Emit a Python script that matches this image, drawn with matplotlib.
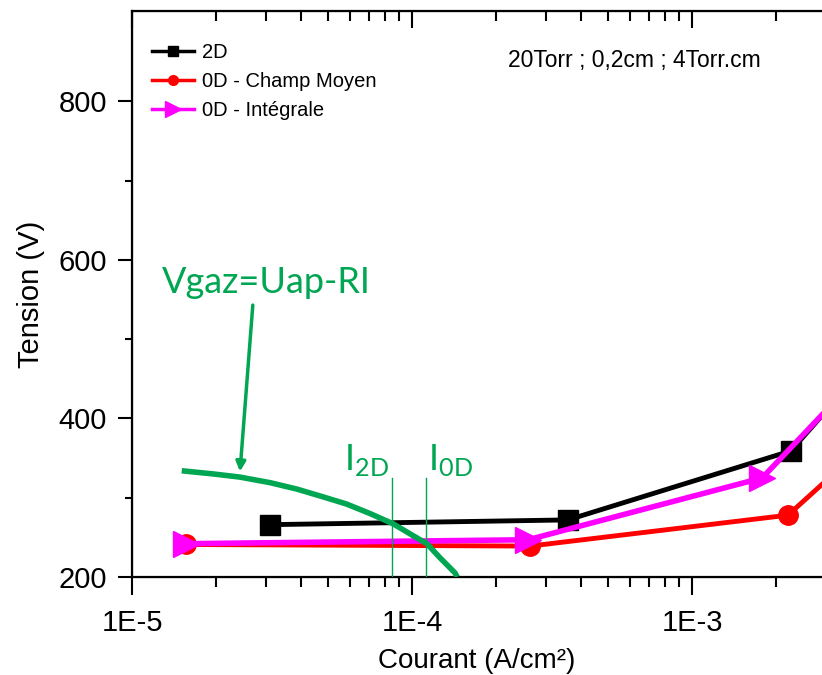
import numpy as np
import matplotlib
matplotlib.use("Agg")
import matplotlib.pyplot as plt
from matplotlib.lines import Line2D
from matplotlib.ticker import FixedLocator, NullFormatter, LogLocator

# data
i_2d = [3.1e-5, 3.6e-4, 2.25e-3, 3.2e-3]
v_2d = [266, 272, 359, 420]

i_cm = [1.56e-5, 2.64e-4, 2.2e-3, 4.0e-3]
v_cm = [241, 239, 278, 361]

i_int = [1.56e-5, 2.6e-4, 1.78e-3, 4.0e-3]
v_int = [242, 247, 325, 456]

# droite de charge Vgaz = Uap - RI
i_gaz = [1.505e-5, 1.95e-5, 2.43e-5, 3.11e-5, 3.87e-5, 4.82e-5, 5.84e-5,
         7.08e-5, 8.57e-5, 1.01e-4, 1.13e-4, 1.26e-4, 1.425e-4, 1.45e-4]
v_gaz = [334, 330, 326, 319, 311, 301, 292,
         280, 267, 252, 242, 224, 205, 200]

i_2d_cross = 8.5e-5
i_0d_cross = 1.12e-4
v_cross_top = 325

green = "#00a651"
plt.rcParams['font.family'] = ['Liberation Sans', 'DejaVu Sans']

fig = plt.figure(figsize=(8.22, 6.75), dpi=100)
ax = fig.add_axes([0.1606, 0.1452, 0.8394, 0.8385])

ax.plot(i_2d, v_2d, color='black', lw=3.5, marker='s', ms=14, zorder=3)
ax.plot(i_cm, v_cm, color='red', lw=3.5, marker='o', ms=14, zorder=4)
ax.plot(i_int, v_int, color='#ff00ff', lw=4, marker='>', ms=19, zorder=5)

ax.plot(i_gaz, v_gaz, color=green, lw=4, zorder=6, solid_capstyle='butt',
        solid_joinstyle='round')
ax.plot([i_2d_cross, i_2d_cross], [200, v_cross_top], color=green, lw=1, zorder=6)
ax.plot([i_0d_cross, i_0d_cross], [200, v_cross_top], color=green, lw=1, zorder=6)

gfont = ['Lato', 'DejaVu Sans']
ax.text(3.01e-5, 571, "Vgaz=Uap-RI", color=green, fontsize=26, family=gfont,
        ha='center', va='center')
ax.annotate("", xy=(2.43e-5, 333), xytext=(2.7e-5, 543),
            arrowprops=dict(arrowstyle='-|>', color=green, lw=2.5,
                            mutation_scale=14, shrinkA=0, shrinkB=0))
ax.text(5.7e-5, 335, r"I$_\mathregular{2D}$", color=green, fontsize=26, family=gfont,
        ha='left', va='baseline')
ax.text(1.14e-4, 335, r"I$_\mathregular{0D}$", color=green, fontsize=26, family=gfont,
        ha='left', va='baseline')

ax.text(0.545, 0.912, "20Torr ; 0,2cm ; 4Torr.cm", transform=ax.transAxes,
        fontsize=16.5, ha='left', va='center')

ax.set_xscale('log')
ax.set_xlim(1e-5, 2.91e-3)
ax.set_ylim(200, 914)
ax.xaxis.set_major_locator(FixedLocator([1e-5, 1e-4, 1e-3]))
ax.set_xticklabels(["1E-5", "1E-4", "1E-3"])
ax.xaxis.set_minor_locator(LogLocator(base=10, subs=np.arange(2, 10)))
ax.xaxis.set_minor_formatter(NullFormatter())
ax.yaxis.set_major_locator(FixedLocator([200, 400, 600, 800]))
ax.yaxis.set_minor_locator(FixedLocator([300, 500, 700]))

ax.tick_params(which='both', direction='out', width=1.5, labelsize=21, top=False, right=False)
ax.tick_params(which='major', length=10, pad=8)
ax.tick_params(which='minor', length=5)
ax.tick_params(axis='x', which='major', length=13, pad=10)
ax.tick_params(axis='x', which='minor', length=7)

ax.spines['right'].set_visible(False)
for s in ['left', 'top', 'bottom']:
    ax.spines[s].set_linewidth(1.6)

# top axis: ticks pointing inward, no labels
ax2 = ax.twiny()
ax2.set_xscale('log')
ax2.set_xlim(ax.get_xlim())
ax2.xaxis.set_major_locator(FixedLocator([1e-5, 1e-4, 1e-3]))
ax2.xaxis.set_minor_locator(LogLocator(base=10, subs=np.arange(2, 10)))
ax2.xaxis.set_major_formatter(NullFormatter())
ax2.xaxis.set_minor_formatter(NullFormatter())
ax2.tick_params(which='both', direction='in', width=1.5)
ax2.tick_params(which='major', length=12)
ax2.tick_params(which='minor', length=7)
ax2.spines['right'].set_visible(False)

ax.set_xlabel("Courant (A/cm²)", fontsize=20, labelpad=8)
ax.set_ylabel("Tension (V)", fontsize=21, labelpad=10)

handles = [
    Line2D([], [], color='black', lw=2.5, marker='s', ms=7),
    Line2D([], [], color='red', lw=2.5, marker='o', ms=7),
    Line2D([], [], color='#ff00ff', lw=2.5, marker='>', ms=11),
]
labels = ["2D", "0D - Champ Moyen", "0D - Intégrale"]
ax.legend(handles, labels, loc='upper left', bbox_to_anchor=(0.029, 0.943),
          frameon=False, fontsize=14.5, handlelength=2.1, handletextpad=0.4,
          labelspacing=0.48, borderaxespad=0, borderpad=0)

fig.savefig("out.png", dpi=100)
